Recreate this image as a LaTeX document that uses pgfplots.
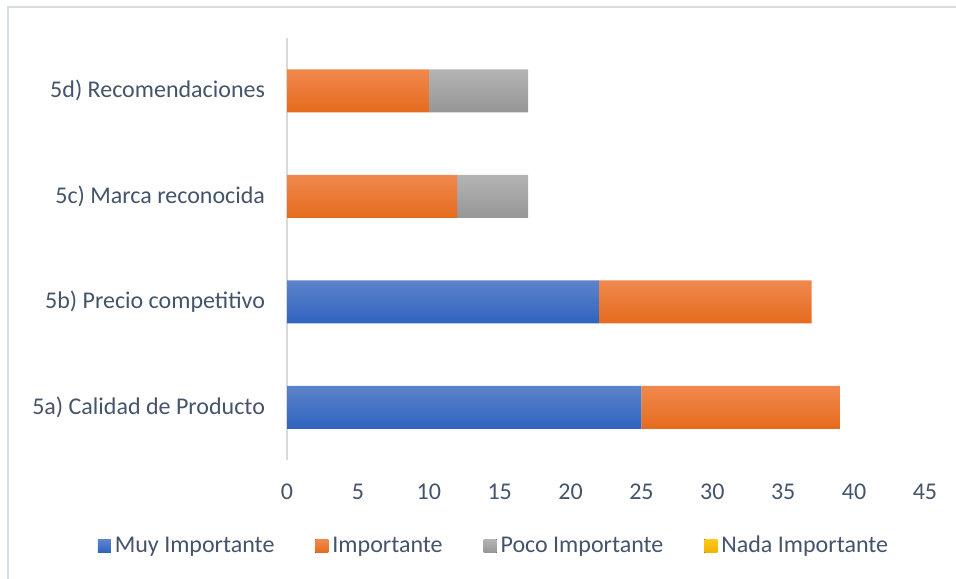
\documentclass[border=0pt]{standalone}
\usepackage{fontspec}
\setmainfont{Carlito}
\usepackage{pgfplots}
\pgfplotsset{compat=1.18}
\definecolor{txt}{RGB}{68,84,106}
\definecolor{blueT}{RGB}{93,132,202}
\definecolor{blueB}{RGB}{48,99,191}
\definecolor{oraT}{RGB}{240,137,78}
\definecolor{oraB}{RGB}{229,107,29}
\definecolor{grayT}{RGB}{180,180,180}
\definecolor{grayB}{RGB}{150,150,150}
\definecolor{yelT}{RGB}{255,200,30}
\definecolor{yelB}{RGB}{240,178,0}
\definecolor{axline}{RGB}{217,217,217}
\definecolor{framec}{RGB}{217,222,228}
% per-bar vertical gradients (path spans two or four bars)
\pgfdeclareverticalshading{blueTwo}{100bp}{color(0bp)=(blueB); color(25bp)=(blueB); color(39.43bp)=(blueT); color(60.57bp)=(blueB); color(75bp)=(blueT); color(100bp)=(blueT)}
\pgfdeclareverticalshading{grayTwo}{100bp}{color(0bp)=(grayB); color(25bp)=(grayB); color(39.43bp)=(grayT); color(60.57bp)=(grayB); color(75bp)=(grayT); color(100bp)=(grayT)}
\pgfdeclareverticalshading{oraFour}{100bp}{color(0bp)=(oraB); color(25bp)=(oraB); color(30.956bp)=(oraT); color(39.681bp)=(oraB); color(45.637bp)=(oraT); color(54.363bp)=(oraB); color(60.319bp)=(oraT); color(69.044bp)=(oraB); color(75bp)=(oraT); color(100bp)=(oraT)}
\begin{document}
\begin{tikzpicture}
\path[use as bounding box] (0,0) rectangle (478bp,289.5bp);
\draw[framec, line width=1bp] (3.75bp,0) -- (3.75bp,285.75bp) -- (478bp,285.75bp);
\begin{axis}[
  at={(143.5bp,59.5bp)}, anchor=south west,
  scale only axis, width=319bp, height=211bp,
  xbar stacked, bar width=21.5bp,
  legend image code/.code={\fill[#1] (0bp,-3.25bp) rectangle (6.5bp,3.25bp);},
  xmin=0, xmax=45, ymin=-0.5, ymax=3.5,
  xtick={0,5,...,45}, ytick={0,1,2,3},
  yticklabels={5a) Calidad de Producto, 5b) Precio competitivo, 5c) Marca reconocida, 5d) Recomendaciones},
  axis lines*=left,
  x axis line style={draw=none},
  y axis line style={draw=axline, line width=1bp},
  major tick length=0pt,
  tick style={draw=none},
  tick label style={font=\fontsize{12bp}{14bp}\selectfont, text=txt},
  /pgf/number format/assume math mode=true,
  xticklabel style={anchor=center, yshift=-16bp},
  yticklabel style={anchor=east, xshift=-7.5bp},
  legend columns=4,
  legend style={at={(0.326,-0.2038)}, anchor=center, draw=none, fill=none,
    font=\fontsize{12bp}{14bp}\selectfont, text=txt,
    /tikz/every even column/.append style={column sep=18.5bp}},
]
% Muy Importante
\addplot[forget plot, draw=none, shading=blueTwo] coordinates {(25,0) (22,1) (0,2) (0,3)};
% Importante
\addplot[forget plot, draw=none, shading=oraFour] coordinates {(14,0) (15,1) (12,2) (10,3)};
% Poco Importante
\addplot[forget plot, draw=none, shading=grayTwo] coordinates {(0,0) (0,1) (5,2) (7,3)};
\addlegendimage{draw=none, top color=blueT, bottom color=blueB}
\addlegendentry{Muy Importante}
\addlegendimage{draw=none, top color=oraT, bottom color=oraB}
\addlegendentry{Importante}
\addlegendimage{draw=none, top color=grayT, bottom color=grayB}
\addlegendentry{Poco Importante}
\addlegendimage{draw=none, top color=yelT, bottom color=yelB}
\addlegendentry{Nada Importante}
\end{axis}
\end{tikzpicture}
\end{document}
